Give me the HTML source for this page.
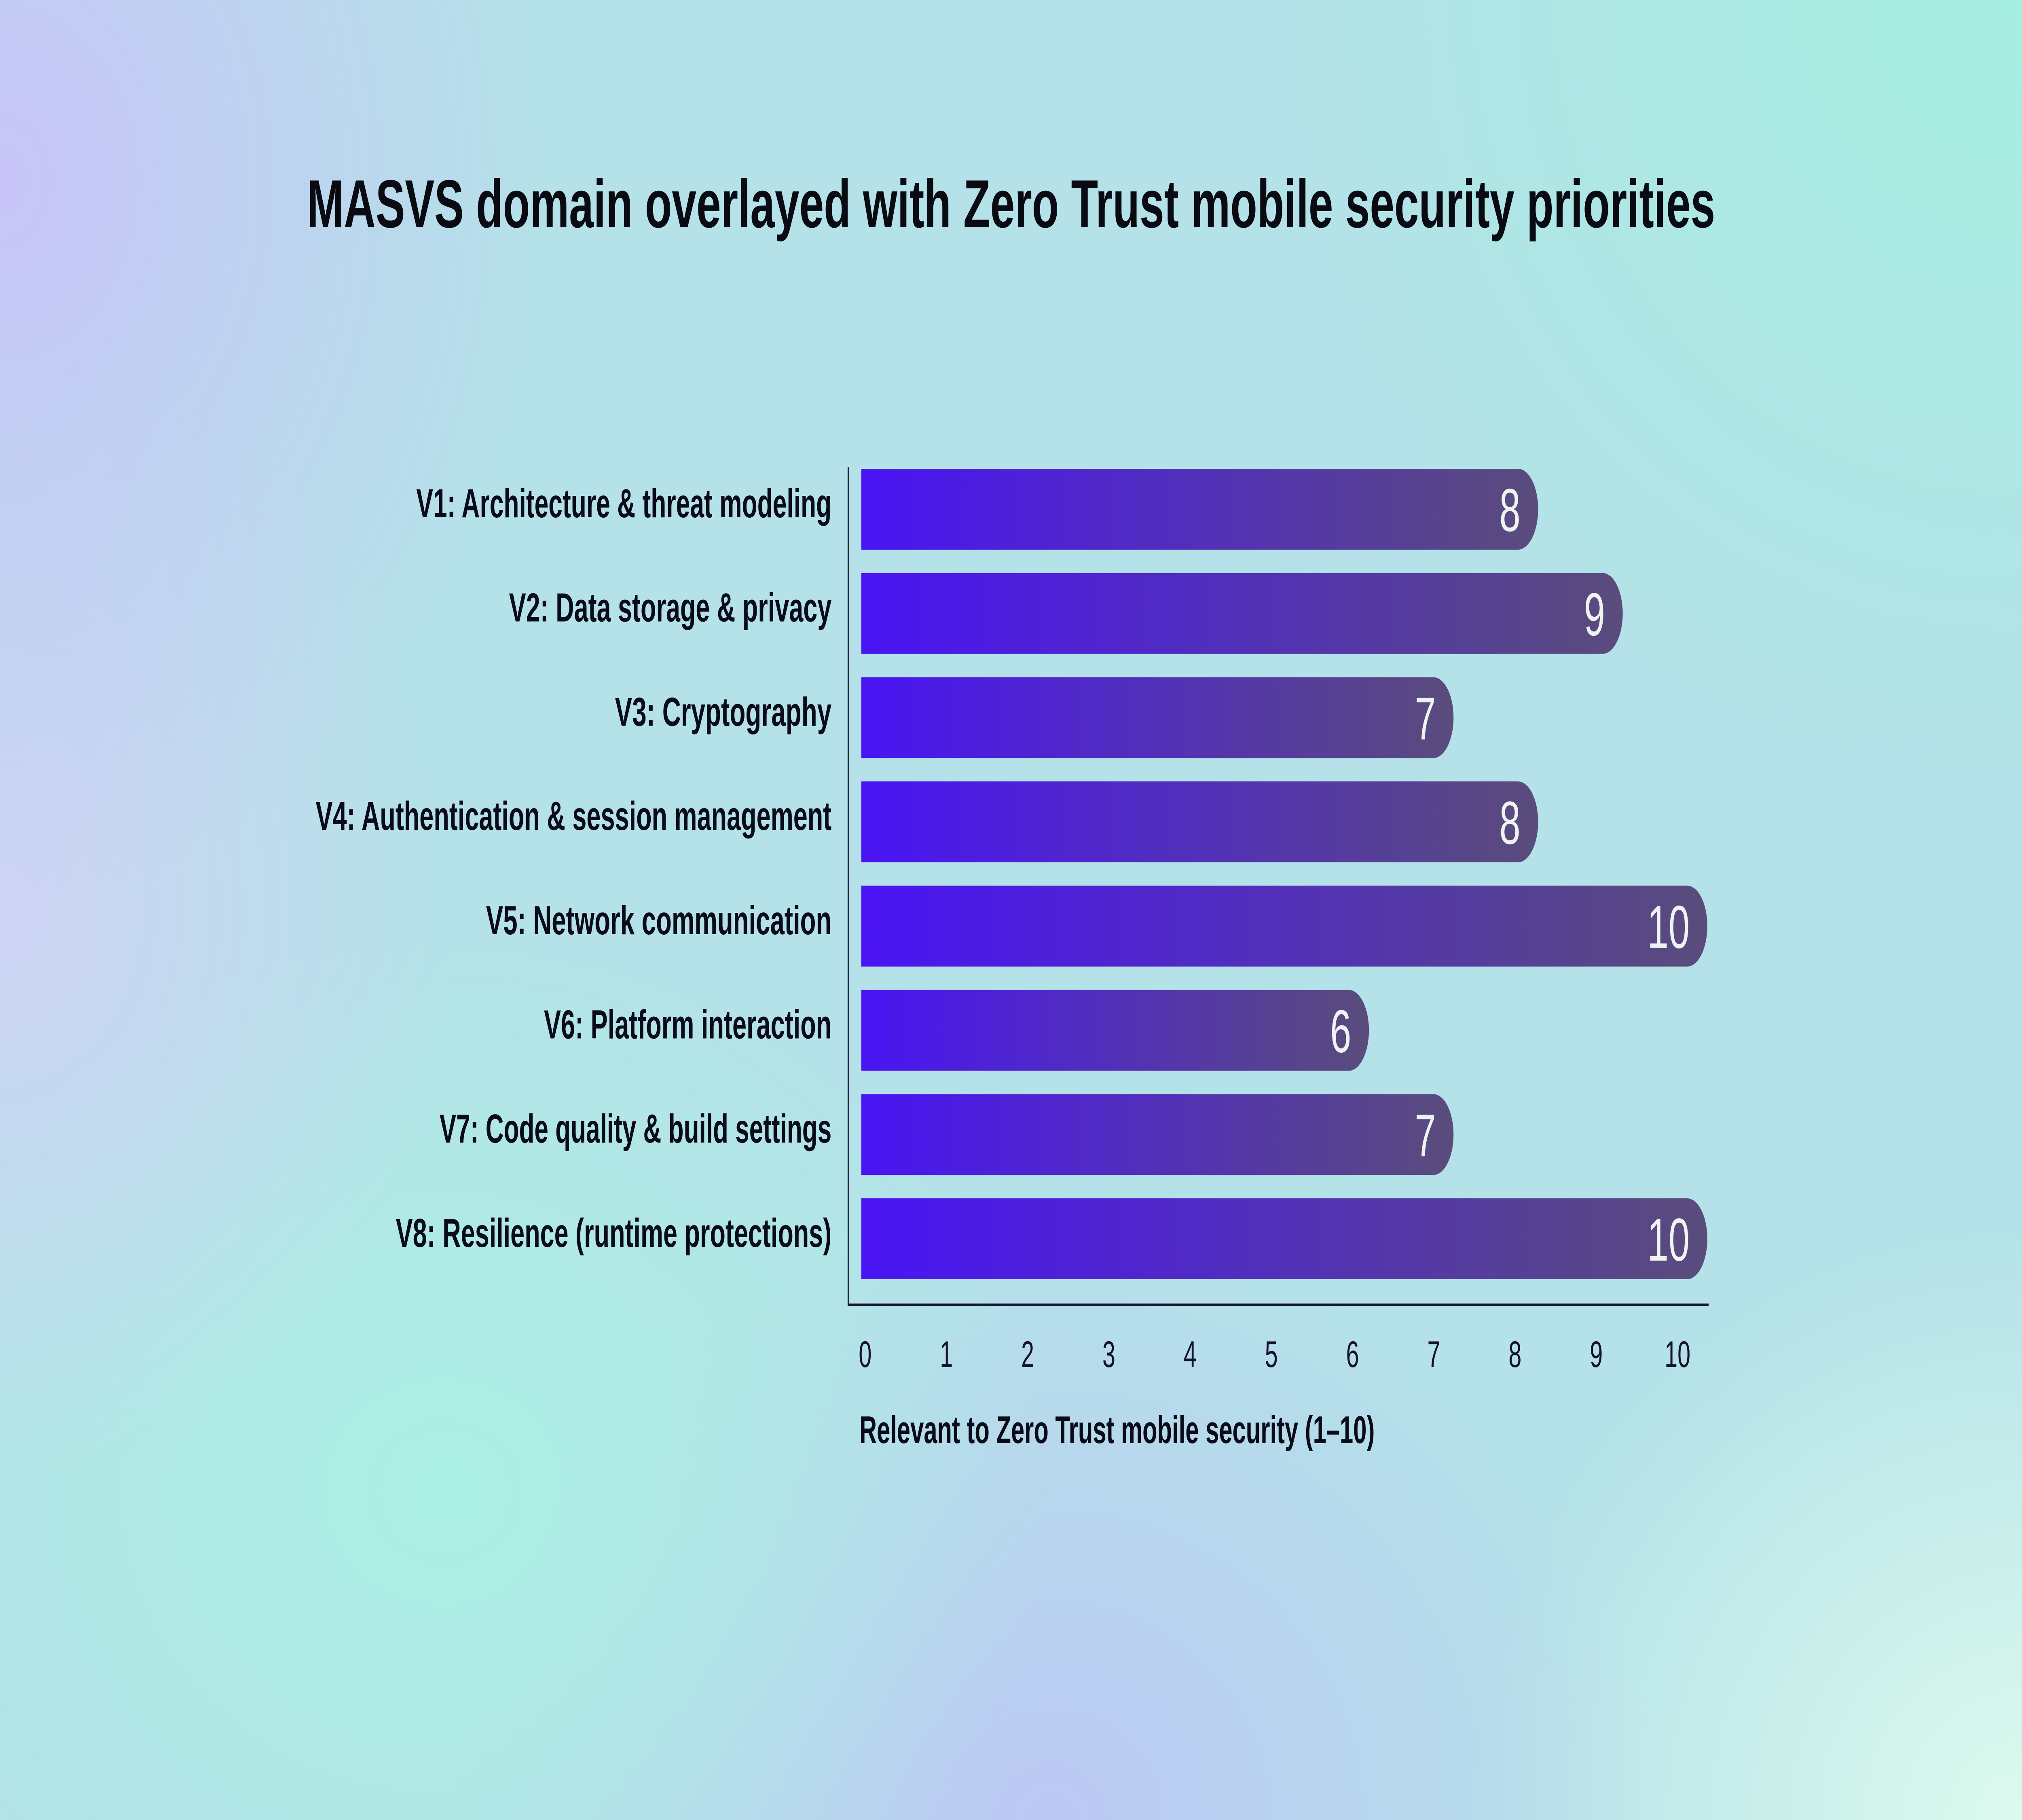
<!DOCTYPE html>
<html><head><meta charset="utf-8"><style>
html,body{margin:0;padding:0;width:100vw;height:100vh;overflow:hidden;}
body{position:relative;
background:
radial-gradient(27.5% 40% at 0% 10%, rgba(200,196,248,1), rgba(200,196,248,0)),
radial-gradient(22.5% 31% at 0% 50%, rgba(210,210,246,0.9), rgba(210,210,246,0)),
radial-gradient(37.5% 44% at 100% 0%, rgba(166,238,224,1), rgba(166,238,224,0)),
radial-gradient(30% 31% at 22% 82%, rgba(172,240,228,1), rgba(172,240,228,0)),
radial-gradient(30% 33% at 52% 100%, rgba(188,200,244,1), rgba(188,200,244,0)),
radial-gradient(27.5% 33% at 100% 100%, rgba(220,250,238,1), rgba(220,250,238,0)),
#b4e2e8;}
svg{position:absolute;left:0;top:0;width:100vw;height:100vh;display:block;}
text{font-family:"Liberation Sans",sans-serif;}
</style></head><body>
<svg id="chart" viewBox="0 0 8000 4500" preserveAspectRatio="none">
<defs><linearGradient id="barGrad" x1="0" x2="1" y1="0" y2="0"><stop offset="0" stop-color="#4a14f4"/><stop offset="1" stop-color="#5a4c7c"/></linearGradient></defs>
<text x="1215" y="562" font-size="168" font-weight="bold" fill="#0a0a12" textLength="5571" lengthAdjust="spacingAndGlyphs">MASVS domain overlayed with Zero Trust mobile security priorities</text>
<line x1="3356" y1="1154" x2="3356" y2="3227" stroke="#2a2a44" stroke-width="5"/>
<line x1="3354" y1="3226" x2="6760" y2="3226" stroke="#1a1836" stroke-width="6"/>
<g id="bars"></g><g id="labels"></g><g id="ticks"></g>
<text x="3400" y="3568" font-size="96" font-weight="bold" fill="#0a0a18" textLength="2039" lengthAdjust="spacingAndGlyphs">Relevant to Zero Trust mobile security (1–10)</text>
</svg>
<script>
const categories=["V1: Architecture & threat modeling","V2: Data storage & privacy","V3: Cryptography","V4: Authentication & session management","V5: Network communication","V6: Platform interaction","V7: Code quality & build settings","V8: Resilience (runtime protections)"];
const labelWidths=[1643,1276,857,2041,1367,1138,1551,1724];
const values=[8,9,7,8,10,6,7,10];
const tickLabels=["0","1","2","3","4","5","6","7","8","9","10"];
const NS="http://www.w3.org/2000/svg";
function xBar(v){return 3408+v*334.7;}
function xTick(i){return 3423+i*321.4;}
function yRow(i){return 1159+i*257.7;}
const BH=200,R=80;
const gb=document.getElementById('bars'),gl=document.getElementById('labels'),gt=document.getElementById('ticks');
function mk(tag,attrs){const e=document.createElementNS(NS,tag);for(const k in attrs)e.setAttribute(k,attrs[k]);return e;}
values.forEach((v,i)=>{
  const x0=xBar(0),x1=xBar(v),y=yRow(i);
  const p=mk('path',{d:`M${x0},${y}H${x1-R}A${R},${BH/2} 0 0 1 ${x1},${y+BH/2}A${R},${BH/2} 0 0 1 ${x1-R},${y+BH}H${x0}Z`,fill:'url(#barGrad)'});
  
  
  gb.appendChild(p);
  const t=mk('text',{x:x1-70,y:y+BH/2+54,'text-anchor':'end','font-size':150,fill:'#eef4f2'});
  t.textContent=String(v);
  
  
  gb.appendChild(t);
  const c=mk('text',{x:3290,y:y+BH/2+20,'text-anchor':'end','font-size':100,'font-weight':'bold',fill:'#0a0a18',textLength:labelWidths[i],lengthAdjust:'spacingAndGlyphs'});
  c.textContent=categories[i];
  
  
  gl.appendChild(c);
});
tickLabels.forEach((s,i)=>{
  const t=mk('text',{x:xTick(i),y:3380,'text-anchor':'middle','font-size':92,fill:'#14102e'});
  t.textContent=s;
  
  
  gt.appendChild(t);
});
</script>
</body></html>
